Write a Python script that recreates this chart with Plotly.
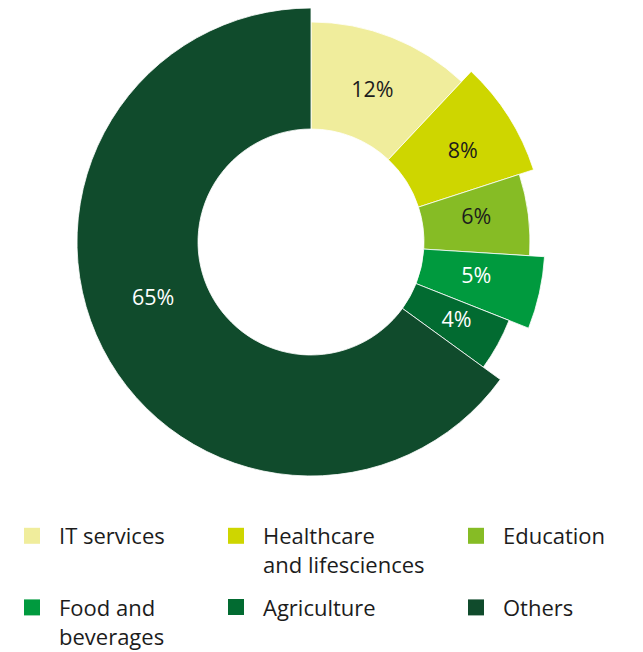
import plotly.graph_objects as go

# Industry share of the total, in percent, drawn clockwise from 12 o'clock
categories = ["IT services", "Healthcare and lifesciences", "Education",
              "Food and beverages", "Agriculture", "Others"]
shares = [12, 8, 6, 5, 4, 65]
legend_names = ["IT services", "Healthcare<br>and lifesciences", "Education",
                "Food and<br>beverages", "Agriculture", "Others"]

# Styling
colors = ["#f0ed9c", "#ced600", "#86bc25", "#009a3e", "#026b31", "#104b2c"]
label_colors = ["#1c1c1c", "#1c1c1c", "#1c1c1c", "#ffffff", "#ffffff", "#ffffff"]
outer_radius = [220, 234, 219, 234, 213, 234]   # stepped ring edge
inner_radius = 113
label_radius = [162, 176, 167, 169, 166, 168]
label_nudge = [0.7, 2.0, -1.0, -0.5, 0.0, 7.0]   # degrees
legend_column = ["legend", "legend2", "legend3", "legend", "legend2", "legend3"]

W, H = 643, 652
cx, cy, R = 311, 242, 235
FONT = "Open Sans"

# Angular position of each segment (degrees, clockwise from the top)
starts = []
acc = 0
for s in shares:
    starts.append(acc)
    acc += s
centers = [(st + s / 2) * 3.6 for st, s in zip(starts, shares)]
widths = [s * 3.6 for s in shares]

fig = go.Figure()

fig.add_trace(go.Barpolar(
    theta=centers,
    width=widths,
    base=[inner_radius] * len(shares),
    r=[o - inner_radius for o in outer_radius],
    marker=dict(color=colors, line=dict(color="#ffffff", width=0.8)),
    showlegend=False,
    hoverinfo="skip",
))

fig.add_trace(go.Scatterpolar(
    theta=[c + n for c, n in zip(centers, label_nudge)],
    r=label_radius,
    mode="text",
    text=[f"{s}%" for s in shares],
    textfont=dict(family=FONT, size=21.5, color=label_colors),
    showlegend=False,
    hoverinfo="skip",
))

# Legend entries, one per industry
for i, name in enumerate(legend_names):
    fig.add_trace(go.Scatterpolar(
        r=[None], theta=[None],
        mode="markers",
        marker=dict(symbol="square", size=16, color=colors[i]),
        name=name,
        legend=legend_column[i],
        legendgroup=f"g{i}",
    ))

legend_common = dict(
    orientation="v",
    yanchor="top",
    xanchor="left",
    font=dict(family=FONT, size=22, color="#1c1c1c"),
    bgcolor="rgba(0,0,0,0)",
    itemwidth=44,
    valign="top",
    itemclick=False,
    itemdoubleclick=False,
)
top_y = 1 - 515 / H

fig.update_layout(
    width=W, height=H,
    margin=dict(l=0, r=0, t=0, b=0, autoexpand=False),
    paper_bgcolor="#ffffff",
    plot_bgcolor="#ffffff",
    polar=dict(
        domain=dict(x=[(cx - R) / W, (cx + R) / W],
                    y=[(H - cy - R) / H, (H - cy + R) / H]),
        bgcolor="rgba(0,0,0,0)",
        radialaxis=dict(visible=False, range=[0, R]),
        angularaxis=dict(visible=False, rotation=90, direction="clockwise"),
        bargap=0,
    ),
    legend=dict(legend_common, x=5 / W, y=top_y, tracegroupgap=40),
    legend2=dict(legend_common, x=209 / W, y=top_y, tracegroupgap=11),
    legend3=dict(legend_common, x=449 / W, y=top_y, tracegroupgap=40),
    showlegend=True,
)

fig.write_html("out.html")
